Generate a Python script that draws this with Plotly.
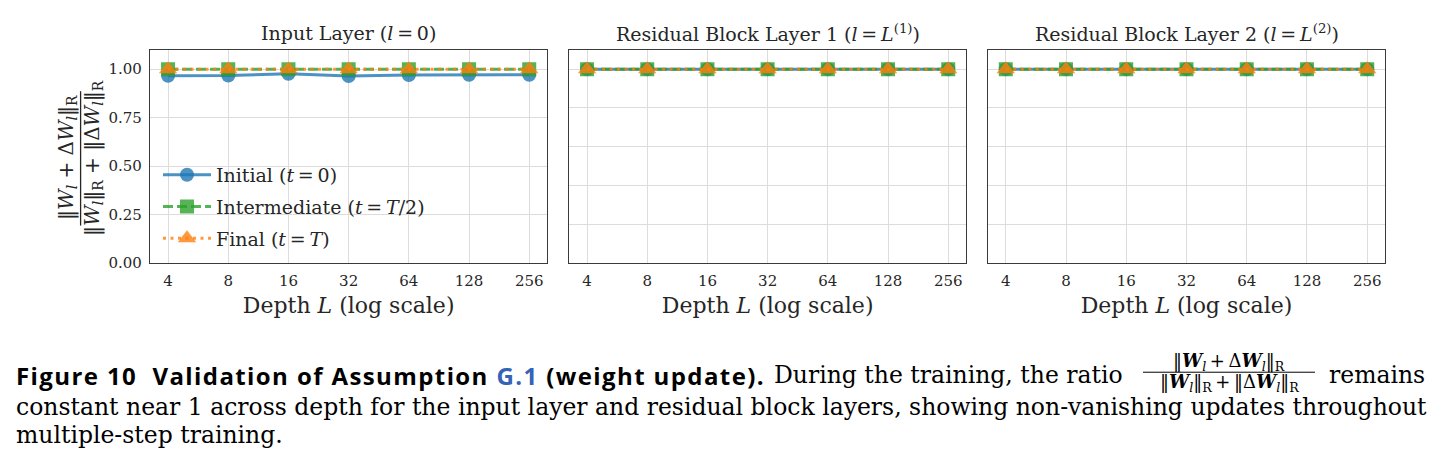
import math
import plotly.graph_objects as go

# ---------------- data ----------------
depths = [4, 8, 16, 32, 64, 128, 256]
depth_labels = ["4", "8", "16", "32", "64", "128", "256"]

input_initial = [0.966, 0.967, 0.976, 0.964, 0.970, 0.971, 0.971]
input_intermediate = [1.0, 1.0, 1.0, 1.0, 1.0, 1.0, 1.0]
input_final = [1.0, 1.0, 1.0, 1.0, 1.0, 1.0, 1.0]

res1_initial = [1.0, 1.0, 1.0, 1.0, 1.0, 1.0, 1.0]
res1_intermediate = [1.0, 1.0, 1.0, 1.0, 1.0, 1.0, 1.0]
res1_final = [1.0, 1.0, 1.0, 1.0, 1.0, 1.0, 1.0]

res2_initial = [1.0, 1.0, 1.0, 1.0, 1.0, 1.0, 1.0]
res2_intermediate = [1.0, 1.0, 1.0, 1.0, 1.0, 1.0, 1.0]
res2_final = [1.0, 1.0, 1.0, 1.0, 1.0, 1.0, 1.0]

panel_titles = [
    "Input Layer (<i>l</i>\u2009=\u20090)",
    "Residual Block Layer 1 (<i>l</i>\u2009=\u2009<i>L</i><sup>(1)</sup>)",
    "Residual Block Layer 2 (<i>l</i>\u2009=\u2009<i>L</i><sup>(2)</sup>)",
]
series_names = [
    "Initial (<i>t</i>\u2009=\u20090)",
    "Intermediate (<i>t</i>\u2009=\u2009<i>T</i>/2)",
    "Final (<i>t</i>\u2009=\u2009<i>T</i>)",
]
y1_ticks = [0.0, 0.25, 0.5, 0.75, 1.0]
y1_ticktext = ["0.00", "0.25", "0.50", "0.75", "1.00"]
y23_ticks = [0.0, 0.2, 0.4, 0.6, 0.8, 1.0]

# ---------------- geometry helpers ----------------
W, H = 1443, 469
def px(x):
    return x / W
def py(y):
    return (H - y) / H

panel_px = [(150.0, 547.3), (569.0, 966.3), (987.7, 1385.3)]
ytop, ybot = 50.7, 268.3

SERIF = "DejaVu Serif"
TXT = "#262626"
GRID = "#dcdcdc"
EDGE = "#3a3a3a"

colors = ["rgba(31,119,180,0.8)", "rgba(44,160,44,0.8)", "rgba(255,127,14,0.8)"]
symbols = ["circle", "square", "triangle-up"]
msizes = [14, 14, 16]
dashes = ["solid", "10px,4px", "3px,4.5px"]

panels = [
    (input_initial, input_intermediate, input_final),
    (res1_initial, res1_intermediate, res1_final),
    (res2_initial, res2_intermediate, res2_final),
]

fig = go.Figure()
for pi, series in enumerate(panels):
    xa = "x" if pi == 0 else f"x{pi+1}"
    ya = "y" if pi == 0 else f"y{pi+1}"
    for si, vals in enumerate(series):
        fig.add_trace(go.Scatter(
            x=depths, y=vals, xaxis=xa, yaxis=ya,
            mode="lines+markers",
            name=series_names[si],
            legendgroup=f"g{si}",
            showlegend=(pi == 0),
            line=dict(color=colors[si], width=3, dash=dashes[si]),
            marker=dict(symbol=symbols[si], size=msizes[si], color=colors[si],
                        line=dict(width=0)),
        ))

xr = [math.log10(4) - 0.3 * math.log10(2), math.log10(256) + 0.3 * math.log10(2)]

def xaxis_cfg(i):
    x0, x1 = panel_px[i]
    return dict(
        domain=[px(x0), px(x1)], type="log", range=xr,
        tickmode="array", tickvals=depths, ticktext=depth_labels,
        showgrid=True, gridcolor=GRID, gridwidth=1,
        showline=True, linecolor=EDGE, linewidth=1.3, mirror=True,
        ticks="", zeroline=False, ticklabelstandoff=4,
        tickfont=dict(family=SERIF, size=15, color=TXT),
        anchor="y" if i == 0 else f"y{i+1}",
        title=dict(text="Depth <i>L</i> (log scale)",
                   font=dict(family=SERIF, size=22, color=TXT), standoff=8),
    )

def yaxis_cfg(i):
    d = dict(
        domain=[py(ybot), py(ytop)], range=[0, 1.1],
        showgrid=True, gridcolor=GRID, gridwidth=1,
        showline=True, linecolor=EDGE, linewidth=1.3, mirror=True,
        ticks="", zeroline=False,
        tickfont=dict(family=SERIF, size=15, color=TXT),
        anchor="x" if i == 0 else f"x{i+1}",
    )
    if i == 0:
        d.update(tickmode="array", tickvals=y1_ticks, ticktext=y1_ticktext,
                 ticklabelstandoff=4)
    else:
        d.update(tickmode="array", tickvals=y23_ticks, showticklabels=False)
    return d

annotations = []
shapes = []

# panel titles
for i, t in enumerate(panel_titles):
    x0, x1 = panel_px[i]
    annotations.append(dict(
        text=t, x=px((x0 + x1) / 2), y=py(34), xref="paper", yref="paper",
        xanchor="center", yanchor="middle", showarrow=False,
        font=dict(family=SERIF, size=19, color=TXT)))

# y-axis title as a rotated fraction
num = "\u2016<i>W</i><sub><i>l</i></sub> + \u0394<i>W</i><sub><i>l</i></sub>\u2016<sub>R</sub>"
den = ("\u2016<i>W</i><sub><i>l</i></sub>\u2016<sub>R</sub> + "
       "\u2016\u0394<i>W</i><sub><i>l</i></sub>\u2016<sub>R</sub>")
annotations.append(dict(text=num, x=px(67), y=py(161), xref="paper", yref="paper",
                        textangle=-90, showarrow=False, xanchor="center", yanchor="middle",
                        font=dict(family=SERIF, size=20, color=TXT)))
annotations.append(dict(text=den, x=px(93), y=py(161), xref="paper", yref="paper",
                        textangle=-90, showarrow=False, xanchor="center", yanchor="middle",
                        font=dict(family=SERIF, size=20, color=TXT)))
shapes.append(dict(type="line", xref="paper", yref="paper",
                   x0=px(80.6), x1=px(80.6), y0=py(93), y1=py(230),
                   line=dict(color=TXT, width=1.3)))

# caption
BOLD = "Open Sans"
CSERIF = "DejaVu Serif"
LS = "letter-spacing:1.4px"
bold_text = (f"<span style='{LS}'>Figure 10\u00a0\u00a0Validation of Assumption </span>"
             f"<span style='{LS};color:#3563b8'>G.1</span>"
             f"<span style='{LS}'> (weight update).</span>")
annotations.append(dict(
    text=bold_text,
    x=px(14), y=py(383), xref="paper", yref="paper", xanchor="left", yanchor="middle",
    showarrow=False, font=dict(family=BOLD, size=24, color="#000000", weight=700)))
annotations.append(dict(
    text="During the training, the ratio",
    x=px(772), y=py(382), xref="paper", yref="paper", xanchor="left", yanchor="middle",
    showarrow=False, font=dict(family=CSERIF, size=23.5, color="#000000")))
cnum = ("\u2016<b><i>W</i></b><sub><i>l</i></sub>\u2009+\u2009\u0394<b><i>W</i></b><sub><i>l</i></sub>\u2016<sub>R</sub>")
cden = ("\u2016<b><i>W</i></b><sub><i>l</i></sub>\u2016<sub>R</sub>\u2009+\u2009"
        "\u2016\u0394<b><i>W</i></b><sub><i>l</i></sub>\u2016<sub>R</sub>")
annotations.append(dict(text=cnum, x=px(1229), y=py(369), xref="paper", yref="paper",
                        xanchor="center", yanchor="middle", showarrow=False,
                        font=dict(family=CSERIF, size=18, color="#000000")))
annotations.append(dict(text=cden, x=px(1229), y=py(391), xref="paper", yref="paper",
                        xanchor="center", yanchor="middle", showarrow=False,
                        font=dict(family=CSERIF, size=18, color="#000000")))
shapes.append(dict(type="line", xref="paper", yref="paper",
                   x0=px(1143), x1=px(1315), y0=py(379.5), y1=py(379.5),
                   line=dict(color="#000000", width=1)))
annotations.append(dict(
    text="remains", x=px(1427), y=py(382), xref="paper", yref="paper",
    xanchor="right", yanchor="middle", showarrow=False,
    font=dict(family=CSERIF, size=23.5, color="#000000")))
annotations.append(dict(
    text="constant near 1 across depth for the input layer and residual block layers, showing non-vanishing updates throughout",
    x=px(14), y=py(415), xref="paper", yref="paper", xanchor="left", yanchor="middle",
    showarrow=False, font=dict(family=CSERIF, size=23.5, color="#000000")))
annotations.append(dict(
    text="multiple-step training.",
    x=px(14), y=py(444), xref="paper", yref="paper", xanchor="left", yanchor="middle",
    showarrow=False, font=dict(family=CSERIF, size=23.5, color="#000000")))

fig.update_layout(
    width=W, height=H, autosize=False,
    margin=dict(l=0, r=0, t=0, b=0),
    paper_bgcolor="white", plot_bgcolor="white",
    xaxis=xaxis_cfg(0), xaxis2=xaxis_cfg(1), xaxis3=xaxis_cfg(2),
    yaxis=yaxis_cfg(0), yaxis2=yaxis_cfg(1), yaxis3=yaxis_cfg(2),
    annotations=annotations, shapes=shapes,
    showlegend=True,
    legend=dict(
        x=px(158), y=py(159), xanchor="left", yanchor="top",
        bgcolor="rgba(0,0,0,0)", borderwidth=0,
        font=dict(family=SERIF, size=19, color=TXT),
        itemwidth=48,
        traceorder="grouped", tracegroupgap=4,
    ),
)

fig.write_html("out.html")
